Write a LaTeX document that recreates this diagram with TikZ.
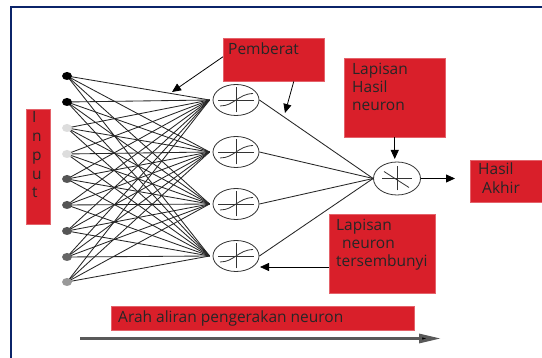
\documentclass[tikz,border=0pt]{standalone}
\usepackage{fontspec}
\setmainfont{Open Sans}
\usetikzlibrary{shapes.geometric,arrows.meta}
\definecolor{boxred}{RGB}{217,31,42}
\definecolor{framenavy}{RGB}{11,36,105}
\definecolor{ingray}{RGB}{221,221,221}
\definecolor{indark}{RGB}{85,85,85}
\tikzset{
  inp/.style={ellipse,minimum width=10pt,minimum height=8pt,inner sep=0pt,draw=none},
  neuron/.style={ellipse,draw=black!80,line width=0.8pt,minimum width=46pt,minimum height=31pt,inner sep=0pt},
  outneuron/.style={ellipse,draw=black!80,line width=0.8pt,minimum width=47pt,minimum height=33pt,inner sep=0pt},
  redbox/.style={rectangle,fill=boxred,draw=boxred!70!white,line width=0.5pt,inner sep=0pt,anchor=north west},
  lbl/.style={anchor=base west,inner sep=0pt,font=\fontsize{15.5}{18}\selectfont,text=black!85},
  wire/.style={draw=black!85,line width=0.85pt},
  pointer/.style={draw=black,line width=0.8pt,-{Triangle[length=9pt,width=8pt]}},
}
\newcommand{\hiddensym}[1]{%
  \draw[black!80,line width=0.8pt] ([xshift=-18pt]#1.center) -- ([xshift=18pt]#1.center);
  \draw[black!80,line width=0.8pt] ([yshift=-12.5pt]#1.center) -- ([yshift=12.5pt]#1.center);
  \draw[black!80,line width=0.8pt] ([xshift=-16pt,yshift=-6pt]#1.center) .. controls ([xshift=-2pt,yshift=-6pt]#1.center) and ([xshift=2pt,yshift=6pt]#1.center) .. ([xshift=17pt,yshift=6.5pt]#1.center);
}
\begin{document}
\begin{tikzpicture}[x=1pt,y=-1pt]
\useasboundingbox (0,0) rectangle (542,358);
\fill[white] (0,0) rectangle (542,358);
% frame
\draw[framenavy,line width=2pt] (11,358) -- (11,7) -- (542,7);

% input nodes
\node[inp] (i1) at (67,76)  {};
\node[inp] (i2) at (67,102) {};
\node[inp] (i3) at (67,128) {};
\node[inp] (i4) at (67,154) {};
\node[inp] (i5) at (67,179) {};
\node[inp] (i6) at (67,205) {};
\node[inp] (i7) at (67,231) {};
\node[inp] (i8) at (67,257) {};
\node[inp] (i9) at (67,282) {};

% hidden neurons
\node[neuron] (h1) at (236,100) {};
\node[neuron] (h2) at (236,152) {};
\node[neuron] (h3) at (236,204) {};
\node[neuron] (h4) at (236,256) {};

% output neuron
\node[outneuron] (o) at (397,178.5) {};

% wires input -> hidden
\foreach \i in {1,...,9}{
  \foreach \h in {1,...,4}{
    \draw[wire] (i\i.center) -- ([xshift=-3pt]h\h.west);
  }
}
% wires hidden -> output
\foreach \h in {1,...,4}{
  \draw[wire] (h\h.east) -- (o.west);
}
% input dots on top of the wires
\foreach \i/\c in {1/black,2/black,3/ingray,4/ingray,5/indark,6/indark,7/indark,8/black!60,9/black!40}{
  \fill[\c] (i\i.center) ellipse (5pt and 4pt);
}

% symbols in neurons
\hiddensym{h1}
\hiddensym{h2}
\hiddensym{h3}
\hiddensym{h4}
\draw[black!80,line width=0.8pt] ([xshift=-15pt]o.center) -- ([xshift=15pt]o.center);
\draw[black!80,line width=0.8pt] ([yshift=-12pt]o.center) -- ([yshift=12pt]o.center);
\draw[black!80,line width=0.8pt] ([xshift=-13pt,yshift=7pt]o.center) -- ([xshift=12pt,yshift=-9pt]o.center);

% red boxes
\node[redbox,minimum width=101pt,minimum height=43pt] (pb) at (223,38) {};
\node[redbox,minimum width=101pt,minimum height=79pt] (lh) at (344,58) {};
\node[redbox,minimum width=80pt,minimum height=42pt] (ha) at (470,160) {};
\node[redbox,minimum width=106pt,minimum height=79pt] (ls) at (329,214) {};
\node[redbox,minimum width=24pt,minimum height=115pt] (ib) at (26,109) {};
\node[redbox,minimum width=303pt,minimum height=24pt] (ab) at (111,306) {};

% labels
\node[lbl] (tpb) at (228,55) {Pemberat};
\node[lbl] (tlh1) at (352,75) {Lapisan};
\node[lbl] (tlh2) at (352,93) {Hasil};
\node[lbl] (tlh3) at (352,111) {neuron};
\node[lbl] (tha1) at (478,175) {Hasil};
\node[lbl] (tha2) at (482,194) {Akhir};
\node[lbl] (tls1) at (336,231) {Lapisan};
\node[lbl] (tls2) at (342,249) {neuron};
\node[lbl] (tls3) at (336,267) {tersembunyi};
\node[lbl] (tab) at (118,323) {Arah aliran pengerakan neuron};
\node[lbl] (tin1) at (32,123) {I};
\node[lbl] (tin2) at (32,142) {n};
\node[lbl] (tin3) at (32,161) {p};
\node[lbl] (tin4) at (32,180) {u};
\node[lbl] (tin5) at (32,198) {t};

% pointer arrows
\coordinate (pa1) at (172,92);
\coordinate (pa2) at (285,113);
\coordinate (lsa) at (260,267);
\coordinate (oa) at (455,178.5);
\draw[pointer] ([yshift=3pt]pb.west) -- (pa1);
\draw[pointer] ([xshift=20pt]pb.south) -- (pa2);
\draw[pointer] (lh.south) -- (lh.south |- 0,159);
\draw[pointer] (ls.west |- lsa) -- (lsa);
\draw[pointer] (o.east) -- (oa);

% bottom flow arrow
\coordinate (fa) at (80,338.5);
\coordinate (fb) at (441,338.5);
\draw[draw=black!65,line width=3pt,-{Triangle[length=22pt,width=9pt,fill=black]}] (fa) -- (fb);
\end{tikzpicture}
\end{document}
